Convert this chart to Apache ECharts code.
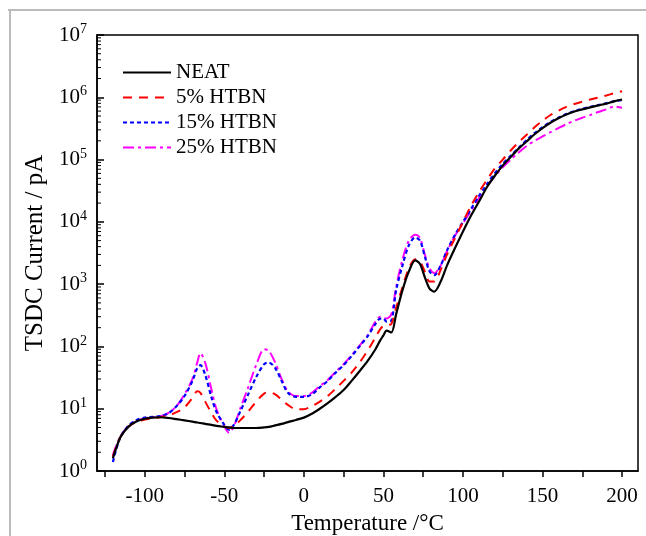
<!DOCTYPE html>
<html><head><meta charset="utf-8">
<script src="https://cdn.jsdelivr.net/npm/echarts@6/dist/echarts.min.js"></script>
<style>html,body{margin:0;padding:0;background:#fff}#c{width:646px;height:536px}</style>
</head><body><div id="c"></div>
<script>
var temps = [-120,-118,-115,-110,-105,-100,-95,-90,-85,-80,-75,-70,-67,-65,-62,-58,-55,-50,-47,-44,-40,-35,-30,-25,-22,-18,-14,-10,-5,0,5,10,15,20,25,30,35,40,45,48,50,52,55,58,62,66,70,73,76,79,82,86,90,95,100,105,110,115,120,125,130,135,140,145,150,155,160,165,170,175,180,185,190,195,200];
var neat = [1.6,2.3,3.6,5.2,6.3,6.9,7.2,7.3,7.1,6.8,6.5,6.2,6.0,5.9,5.7,5.5,5.3,5.1,5.0,4.9,4.9,4.9,4.9,5.0,5.1,5.4,5.7,6.1,6.6,7.2,8.3,10.0,12.3,15.5,20,28,40,58,90,125,150,180,168,330,800,1600,2400,2100,1300,850,760,1100,2000,3800,7000,12500,21000,36000,55000,80000,110000,150000,195000,255000,320000,390000,460000,530000,590000,640000,690000,740000,790000,860000,920000];
var htbn5 = [1.7,2.4,3.6,5.2,6.2,6.7,7.0,7.3,7.8,8.8,10.5,15,19,18,13,8.5,6.5,5.2,4.9,5.3,6.5,9,13,17.5,18.5,17,14,11.5,9.8,9.8,11,13,16,21,28,38,55,85,140,190,215,220,230,420,900,1800,2500,2300,1600,1100,1100,1700,3000,5500,10000,18000,30000,47000,72000,100000,140000,190000,250000,330000,420000,520000,610000,700000,780000,850000,920000,990000,1070000,1160000,1250000];
var htbn15 = [1.4,2.2,3.6,5.4,6.6,7.2,7.4,7.6,8.5,11,16,28,45,50,35,15,9,5.5,4.6,5.5,9,17,32,52,55,45,28,18,15.5,15.5,17,22,28,38,50,70,100,145,230,280,280,250,260,800,2000,4200,5600,5000,2800,1600,1400,2000,3500,6200,10000,16000,26000,40000,60000,85000,115000,155000,205000,265000,330000,400000,470000,540000,600000,650000,700000,750000,800000,870000,900000];
var htbn25 = [1.8,2.5,3.7,5.3,6.4,7.0,7.3,7.6,8.6,11,17,30,55,78,55,20,10,5.2,4.1,5.2,10,22,50,90,85,55,30,19,16,16,18,23,29,39,52,72,103,150,250,300,290,280,330,900,2500,5000,6200,5500,3000,1800,1500,2000,3400,6000,9500,15000,24000,37000,54000,75000,100000,130000,165000,200000,235000,275000,320000,370000,420000,470000,520000,580000,640000,710000,680000];
var seriesNames = ['NEAT','5% HTBN','15% HTBN','25% HTBN'];
var xTicks = [-100,-50,0,50,100,150,200];
var xTickMarks = [-125,-100,-75,-50,-25,0,25,50,75,100,125,150,175,200];
var yDecades = [0,1,2,3,4,5,6,7];

function pairs(v){ return temps.map(function(t,i){ return [t, v[i]]; }); }
var minorY = [];
yDecades.slice(0,-1).forEach(function(k){ for (var m=2;m<=9;m++) minorY.push([-130, m*Math.pow(10,k)]); });

var serif = 'Liberation Serif, Times New Roman, serif';
var chart = echarts.init(document.getElementById('c'));
function ls(color, type, w){ return {color: color, width: w || 2, type: type}; }
chart.setOption({
  animation: false,
  backgroundColor: '#fff',
  grid: {left: 97, right: 8, top: 35, bottom: 65, show: true, borderColor: '#000', borderWidth: 1.5, backgroundColor: 'transparent', containLabel: false, outerBoundsMode: 'none'},
  graphic: [
    {type: 'line', shape: {x1: 8, y1: 10, x2: 646, y2: 10}, style: {stroke: '#777', lineWidth: 1}},
    {type: 'line', shape: {x1: 10, y1: 10, x2: 10, y2: 536}, style: {stroke: '#bbb', lineWidth: 2}}
  ],
  legend: {
    data: seriesNames, orient: 'vertical', left: 117, top: 57, itemWidth: 48, itemHeight: 14, itemGap: 4,
    itemStyle: {opacity: 0}, lineStyle: {inherit: true},
    textStyle: {fontFamily: serif, fontSize: 21, color: '#000'}
  },
  xAxis: {
    type: 'value', min: -130, max: 210, interval: 50,
    axisLine: {onZero: false, lineStyle: {color: '#000', width: 1.5}},
    axisTick: {inside: false, length: 6, lineStyle: {color: '#000', width: 1.5},
      customValues: xTickMarks},
    axisLabel: {customValues: xTicks, fontFamily: serif, fontSize: 21, color: '#000', margin: 15},
    splitLine: {show: false},
    name: 'Temperature /°C', nameLocation: 'middle', nameGap: 41,
    nameTextStyle: {fontFamily: serif, fontSize: 23, color: '#000'}
  },
  yAxis: {
    type: 'log', logBase: 10, min: 1, max: 1e7,
    axisLine: {onZero: false, lineStyle: {color: '#000', width: 1.5}},
    axisTick: {inside: true, length: 7, lineStyle: {color: '#000', width: 1.5}},
    axisLabel: {
      margin: 10, color: '#000',
      formatter: function(v){ return '{b|10}{s|' + Math.round(Math.log10(v)) + '}'; },
      rich: {b: {fontFamily: serif, fontSize: 21, color: '#000'}, s: {fontFamily: serif, fontSize: 14, color: '#000', padding: [0,0,11,0]}}
    },
    splitLine: {show: false},
    name: 'TSDC Current / pA', nameLocation: 'middle', nameGap: 36, nameRotate: 90,
    nameTextStyle: {fontFamily: serif, fontSize: 25, color: '#000'}
  },
  series: [
    {name: 'NEAT', type: 'line', data: pairs(neat), showSymbol: false, symbol: 'none', smooth: 0.3, lineStyle: ls('#000','solid',2.2), itemStyle: {color: '#000'}, z: 5},
    {name: '5% HTBN', type: 'line', data: pairs(htbn5), showSymbol: false, symbol: 'none', smooth: 0.3, lineStyle: ls('#ff0000',[9,7],2), itemStyle: {color: '#ff0000'}, z: 4},
    {name: '15% HTBN', type: 'line', data: pairs(htbn15), showSymbol: false, symbol: 'none', smooth: 0.3, lineStyle: ls('#0000ff',[4,3],2.2), itemStyle: {color: '#0000ff'}, z: 3},
    {name: '25% HTBN', type: 'line', data: pairs(htbn25), showSymbol: false, symbol: 'none', smooth: 0.3, lineStyle: ls('#ff00ff',[11,4,3,4],2), itemStyle: {color: '#ff00ff'}, z: 2},
    {name: 'minorY', type: 'custom', data: minorY, silent: true, z: 10,
      renderItem: function(params, api){
        var p = api.coord([api.value(0), api.value(1)]);
        return {type: 'line', shape: {x1: p[0], y1: p[1], x2: p[0] + 4, y2: p[1]}, style: {stroke: '#000', lineWidth: 1}};
      }}
  ]
});
</script></body></html>
